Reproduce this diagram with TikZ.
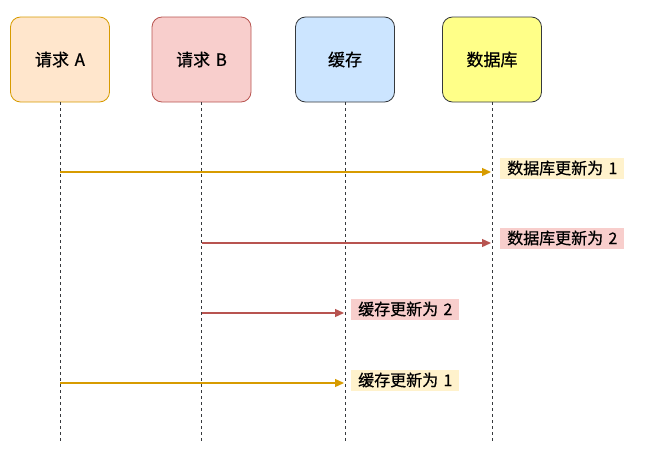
\documentclass[tikz,border=0pt]{standalone}
\usepackage{fontspec}
\setmainfont{Noto Sans CJK SC}[FakeBold=0.6]
\usetikzlibrary{arrows.meta}
\definecolor{aStroke}{HTML}{D79B00}
\definecolor{aFill}{HTML}{FFE6CC}
\definecolor{bStroke}{HTML}{B85450}
\definecolor{bFill}{HTML}{F8CECC}
\definecolor{cFill}{HTML}{CCE5FF}
\definecolor{dFill}{HTML}{FFFF88}
\definecolor{gStroke}{HTML}{36393D}
\definecolor{yLabel}{HTML}{FFF2CC}
\newcommand{\gap}{\hspace{0.33em}}
\begin{document}
\begin{tikzpicture}[x=1pt,y=-1pt,
  actor/.style={rounded corners=10pt, minimum width=99pt, minimum height=85pt, line width=0.8pt, font=\fontsize{17}{20}\selectfont, inner sep=0pt},
  life/.style={draw=gStroke, line width=0.8pt, dash pattern=on 3pt off 3pt},
  msg/.style={line width=1.3pt, -{Triangle[length=9pt,width=8pt]}},
  lab/.style={anchor=west, inner xsep=7pt, inner ysep=2pt, minimum height=21pt, font=\fontsize{16}{19}\selectfont}]
\useasboundingbox (0,0) rectangle (650,455);
\node[actor, draw=aStroke, fill=aFill] (A) at (60,59.5) {请求\gap A};
\node[actor, draw=bStroke, fill=bFill] (B) at (201.5,59.5) {请求\gap B};
\node[actor, draw=gStroke, fill=cFill] (C) at (345,59.5) {缓存};
\node[actor, draw=gStroke, fill=dFill] (D) at (492,59.5) {数据库};
\coordinate (Ae) at (60,441);
\coordinate (Be) at (201.5,441);
\coordinate (Ce) at (345,441);
\coordinate (De) at (492,441);
\draw[life] (A.south) -- (Ae);
\draw[life] (B.south) -- (Be);
\draw[life] (C.south) -- (Ce);
\draw[life] (D.south) -- (De);
\coordinate (a1) at (60,172);
\coordinate (d1) at (491,172);
\coordinate (b2) at (201.5,243);
\coordinate (d2) at (491,243);
\coordinate (b3) at (201.5,313);
\coordinate (c3) at (344,313);
\coordinate (a4) at (60,383);
\coordinate (c4) at (344,383);
\draw[msg, draw=aStroke, color=aStroke] (a1) -- (d1);
\draw[msg, draw=bStroke, color=bStroke] (b2) -- (d2);
\draw[msg, draw=bStroke, color=bStroke] (b3) -- (c3);
\draw[msg, draw=aStroke, color=aStroke] (a4) -- (c4);
\node[lab, fill=yLabel] (L1) at (500,168) {数据库更新为\gap 1};
\node[lab, fill=bFill] (L2) at (500,238) {数据库更新为\gap 2};
\node[lab, fill=bFill] (L3) at (351,309) {缓存更新为\gap 2};
\node[lab, fill=yLabel] (L4) at (351,380) {缓存更新为\gap 1};
\end{tikzpicture}
\end{document}
